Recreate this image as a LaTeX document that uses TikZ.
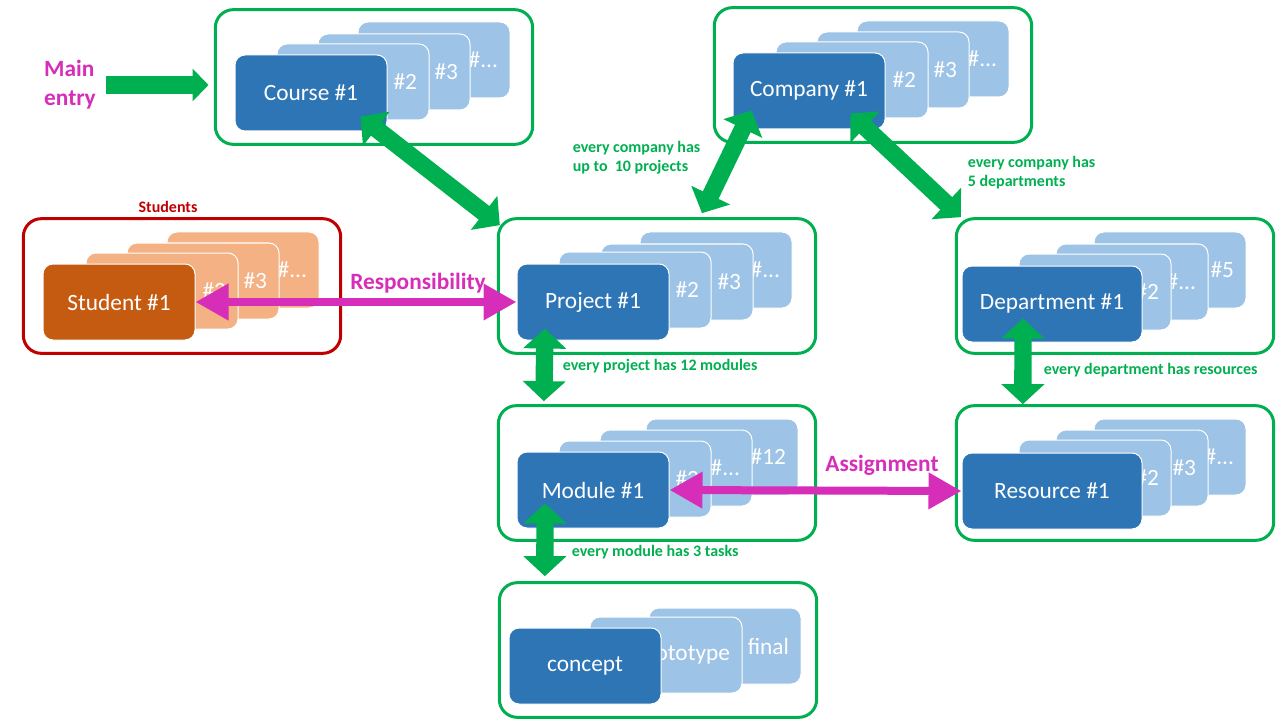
\documentclass[tikz,border=0pt]{standalone}
\usepackage{fontspec}
\setmainfont{Carlito}
\usetikzlibrary{arrows.meta}

\definecolor{cardblue}{RGB}{46,117,182}
\definecolor{cardlight}{RGB}{157,195,230}
\definecolor{studdark}{RGB}{197,90,17}
\definecolor{studlight}{RGB}{244,177,131}
\definecolor{linkgreen}{RGB}{0,176,80}
\definecolor{flowpink}{RGB}{214,46,184}
\definecolor{groupred}{RGB}{192,0,0}

\tikzset{every picture/.style={line width=0.75pt}}
\tikzset{
  cardtext/.style={font=\fontsize{17.5}{20}\selectfont, text=white},
  frontcard/.style={cardtext, draw=white, fill=cardblue, rounded corners=7.5pt,
    minimum width=114pt, minimum height=57pt, inner sep=2pt},
  backcard/.style={cardtext, draw=white, fill=cardlight, rounded corners=7.5pt,
    text width=96pt, inner xsep=9pt, minimum height=57pt, align=right},
  studfront/.style={frontcard, fill=studdark},
  studback/.style={backcard, fill=studlight},
  groupbox/.style={draw=linkgreen, line width=2.25pt, rounded corners=13.5pt,
    minimum width=238pt, minimum height=101pt},
  linkarrow/.style={draw=linkgreen, line width=13pt,
    {Triangle[length=15pt,width=31.5pt]}-{Triangle[length=15pt,width=31.5pt]}},
  entryarrow/.style={draw=linkgreen, line width=13pt, -{Triangle[length=12pt,width=24pt]}},
  flowarrow/.style={draw=flowpink, line width=6pt,
    {Triangle[length=24.75pt,width=26pt]}-{Triangle[length=24.75pt,width=26pt]}},
  flowlabel/.style={text=flowpink, font=\bfseries\fontsize{17.5}{21.75}\selectfont, inner sep=1pt},
  notelabel/.style={text=linkgreen, font=\bfseries\fontsize{12}{14.25}\selectfont,
    align=left, inner sep=1pt, anchor=west},
}

\begin{document}
\begin{tikzpicture}[x=0.75pt,y=0.75pt,yscale=-1,xscale=1]
\useasboundingbox (0,0) rectangle (1280,720);

%Rounded Rect
\node [groupbox] (coursebox) at (374,77) {};
\node [groupbox] (companybox) at (873,75) {};
\node [groupbox, draw=groupred] (studentbox) at (182,286) {};
\node [groupbox] (projectbox) at (657,286) {};
\node [groupbox] (departbox) at (1115,286) {};
\node [groupbox] (modulebox) at (657,473) {};
\node [groupbox] (resourcebox) at (1115,473) {};
\node [groupbox] (taskbox) at (658,650) {};

%Rounded Rect - courses
\node [backcard] (course4) at (434,60) {\#...};
\node [backcard] (course3) at (394,72) {\#3};
\node [backcard] (course2) at (353,82) {\#2};
\node [frontcard] (course1) at (311,93) {Course \#1};
%Rounded Rect - companies
\node [backcard] (company4) at (933,59) {\#...};
\node [backcard] (company3) at (893,70) {\#3};
\node [backcard] (company2) at (852,80) {\#2};
\node [frontcard] (company1) at (809,91) {Company \#1};
%Rounded Rect - students
\node [studback] (student4) at (243,270) {\#...};
\node [studback] (student3) at (203,281) {\#3};
\node [studback] (student2) at (162,291) {\#2};
\node [studfront] (student1) at (119,302) {Student \#1};
%Rounded Rect - projects
\node [backcard] (project4) at (716,270) {\#...};
\node [backcard] (project3) at (677,282) {\#3};
\node [backcard] (project2) at (635,290) {\#2};
\node [frontcard] (project1) at (593,302) {Project \#1};
%Rounded Rect - departments
\node [backcard] (depart4) at (1170,270) {\#5};
\node [backcard] (depart3) at (1132,282) {\#...};
\node [backcard] (depart2) at (1095,292) {\#2};
\node [frontcard, minimum width=135pt] (depart1) at (1052,304) {Department \#1};
%Rounded Rect - modules
\node [backcard] (module4) at (722,457) {\#12};
\node [backcard] (module3) at (676,468) {\#...};
\node [backcard] (module2) at (635,479) {\#2};
\node [frontcard] (module1) at (593,490) {Module \#1};
%Rounded Rect - resources
\node [backcard] (resource4) at (1170,457) {\#...};
\node [backcard] (resource3) at (1132,468) {\#3};
\node [backcard] (resource2) at (1095,478) {\#2};
\node [frontcard, minimum width=135pt] (resource1) at (1052,491) {Resource \#1};
%Rounded Rect - tasks
\node [backcard] (final) at (725,646) {final};
\node [backcard] (prototype) at (666,655) {prototype};
\node [frontcard] (concept) at (585,666) {concept};

% Text Node
\node [flowlabel, align=left] (mainentry) at (70,85) {Main\\entry};
% Text Node
\node [flowlabel] (resplabel) at (418,283) {Responsibility};
% Text Node
\node [flowlabel] (assignlabel) at (882,465) {Assignment};
% Text Node
\node [text=groupred, font=\bfseries\fontsize{12}{14}\selectfont, inner sep=1pt] (studentlabel) at (168,207) {Students};
% Text Node
\node [notelabel] (companynote) at (571,158) {every company has\\up to\ \ 10 projects};
% Text Node
\node [notelabel] (departnote) at (966,173) {every company has\\5 departments};
% Text Node
\node [notelabel] (projectnote) at (561,366) {every project has 12 modules};
% Text Node
\node [notelabel] (resourcenote) at (1042,370) {every department has resources};
% Text Node
\node [notelabel] (tasknote) at (570,552) {every module has 3 tasks};

%Straight Lines
\draw [entryarrow] ([xshift=6]mainentry.east) -- ([xshift=-4]mainentry.east -| coursebox.west);
%Straight Lines
\draw [linkarrow] ([shift={(-27,-15)}]course1.south east) -- ([shift={(3,8)}]projectbox.north west);
%Straight Lines
\draw [linkarrow] ([shift={(19,-19)}]company1.south west) -- ([shift={(45,-4)}]projectbox.north);
%Straight Lines
\draw [linkarrow] ([shift={(-35,-16)}]company1.south east) -- ([shift={(6,0)}]departbox.north west);
%Straight Lines
\draw [linkarrow] ([shift={(-48,-12)}]project1.south) -- ([shift={(47,-3)}]modulebox.north west);
%Straight Lines
\draw [linkarrow] ([shift={(-29,-24)}]depart1.south) -- ([shift={(68,0)}]resourcebox.north west);
%Straight Lines
\draw [linkarrow] ([shift={(-48,-25)}]module1.south) -- ([shift={(47,-5)}]taskbox.north west);
%Straight Lines
\draw [flowarrow] (student1.east) -- (project1.west);
%Straight Lines
\draw [flowarrow] (module1.east) -- (resource1.west);
\end{tikzpicture}
\end{document}
